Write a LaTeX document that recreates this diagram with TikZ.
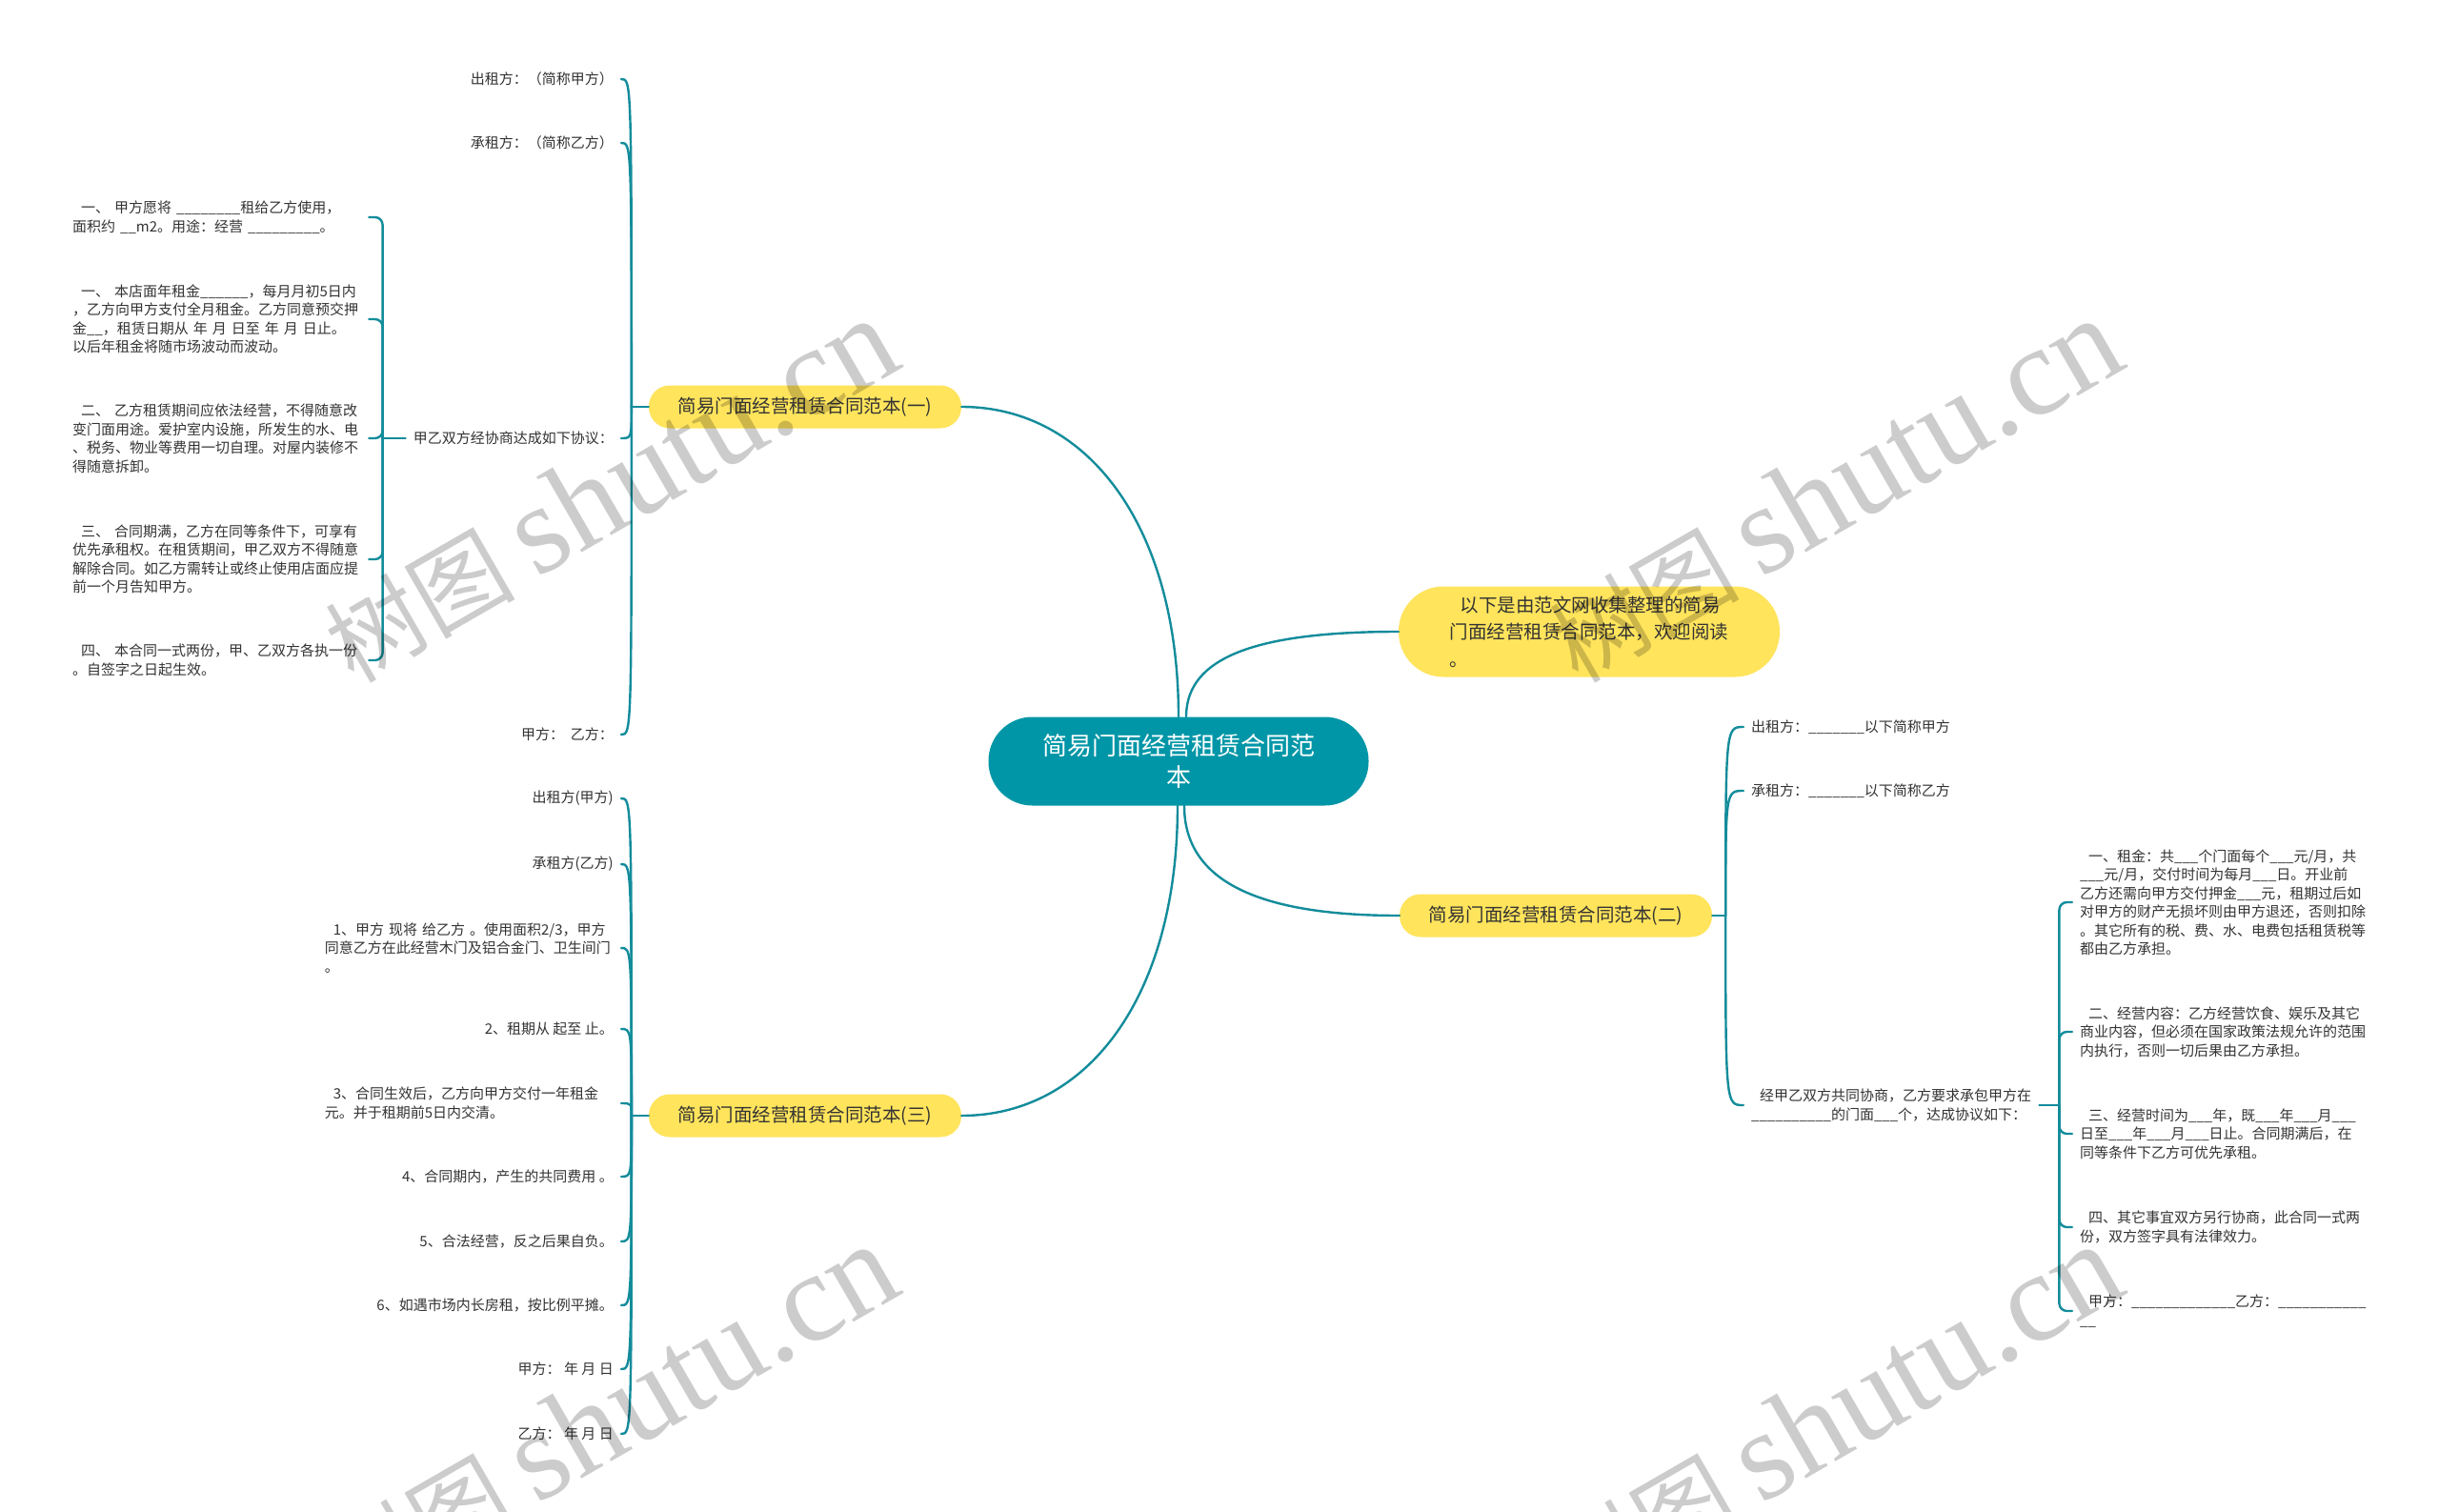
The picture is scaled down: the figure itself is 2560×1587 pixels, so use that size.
\documentclass[tikz,border=0pt]{standalone}
\usepackage{fontspec}
\setmainfont{Noto Sans CJK SC}
\newfontfamily\wmserif{Liberation Serif}
\usepackage{tikz}
\definecolor{hubteal}{HTML}{0096A7}
\definecolor{linkteal}{HTML}{138C9B}
\definecolor{topicyellow}{HTML}{FFE45C}
\definecolor{leafgray}{HTML}{333333}
\tikzset{
  link/.style={draw=linkteal,line width=2.4pt,line cap=round},
  bracelink/.style={link,rounded corners=8pt},
  hubnode/.style={fill=hubteal,text=white,rounded corners=46pt,minimum width=399pt,minimum height=93pt,align=center,font=\fontsize{26}{33}\selectfont},
  topicnode/.style={fill=topicyellow,text=leafgray,rounded corners=22pt,minimum width=328pt,minimum height=45pt,font=\fontsize{19.5}{24}\selectfont},
  leafnode/.style={text=leafgray,inner xsep=8pt,inner ysep=0pt,font=\fontsize{15}{19.5}\selectfont},
  leafl/.style={leafnode,anchor=east},
  leafr/.style={leafnode,anchor=west},
  leafblock/.style={text width=303pt,align=left},
  watermark/.style={rotate=30,text=black,text opacity=0.2,inner sep=0pt}
}
\begin{document}
\begin{tikzpicture}[x=1pt,y=-1pt]
\fill[white] (0,0) rectangle (2560,1587);
\useasboundingbox (0,0) rectangle (2560,1587);

\node[hubnode] (hub) at (1237,799) {简易门面经营租赁合同范\\本};
\node[topicnode,minimum width=400pt,minimum height=95pt,rounded corners=47pt,align=left,font=\fontsize{19.5}{28.5}\selectfont]
  (intro) at (1668,663) {\hspace*{11pt}以下是由范文网收集整理的简易\\门面经营租赁合同范本，欢迎阅读\\。};
\node[topicnode] (b1) at (845,427) {简易门面经营租赁合同范本(一)};
\node[topicnode] (b2) at (1633,961) {简易门面经营租赁合同范本(二)};
\node[topicnode] (b3) at (845,1171) {简易门面经营租赁合同范本(三)};

\node[leafl] (l11) at (652,83) {出租方：（简称甲方）};
\node[leafl] (l12) at (652,150) {承租方：（简称乙方）};
\node[leafl] (l13) at (652,460) {甲乙双方经协商达成如下协议：};
\node[leafl] (l14) at (652,771) {甲方：\ \ 乙方：};

\node[leafr,leafblock] (m1) at (68,228) {\hspace*{9pt}一、 甲方愿将 \_\_\_\_\_\_\_\_租给乙方使用，\\面积约 \_\_m2。用途：经营 \_\_\_\_\_\_\_\_\_。};
\node[leafr,leafblock] (m2) at (68,335) {\hspace*{9pt}一、 本店面年租金\_\_\_\_\_\_，每月月初5日内\\，乙方向甲方支付全月租金。乙方同意预交押\\金\_\_，租赁日期从 年 月 日至 年 月 日止。\\以后年租金将随市场波动而波动。};
\node[leafr,leafblock] (m3) at (68,460) {\hspace*{9pt}二、 乙方租赁期间应依法经营，不得随意改\\变门面用途。爱护室内设施，所发生的水、电\\、税务、物业等费用一切自理。对屋内装修不\\得随意拆卸。};
\node[leafr,leafblock] (m4) at (68,587) {\hspace*{9pt}三、 合同期满，乙方在同等条件下，可享有\\优先承租权。在租赁期间，甲乙双方不得随意\\解除合同。如乙方需转让或终止使用店面应提\\前一个月告知甲方。};
\node[leafr,leafblock] (m5) at (68,693) {\hspace*{9pt}四、 本合同一式两份，甲、乙双方各执一份\\。自签字之日起生效。};

\node[leafr] (r1) at (1830,763) {出租方：\_\_\_\_\_\_\_以下简称甲方};
\node[leafr] (r2) at (1830,830) {承租方：\_\_\_\_\_\_\_以下简称乙方};
\node[leafr,align=left] (r3) at (1830,1160) {\hspace*{9pt}经甲乙双方共同协商，乙方要求承包甲方在\\\_\_\_\_\_\_\_\_\_\_的门面\_\_\_个，达成协议如下：};

\node[leafr,leafblock] (s1) at (2175,947) {\hspace*{9pt}一、租金：共\_\_\_个门面每个\_\_\_元/月，共\\\_\_\_元/月，交付时间为每月\_\_\_日。开业前\\乙方还需向甲方交付押金\_\_\_元，租期过后如\\对甲方的财产无损坏则由甲方退还，否则扣除\\。其它所有的税、费、水、电费包括租赁税等\\都由乙方承担。};
\node[leafr,leafblock] (s2) at (2175,1083) {\hspace*{9pt}二、经营内容：乙方经营饮食、娱乐及其它\\商业内容，但必须在国家政策法规允许的范围\\内执行，否则一切后果由乙方承担。};
\node[leafr,leafblock] (s3) at (2175,1190) {\hspace*{9pt}三、经营时间为\_\_\_年，既\_\_\_年\_\_\_月\_\_\_\\日至\_\_\_年\_\_\_月\_\_\_日止。合同期满后，在\\同等条件下乙方可优先承租。};
\node[leafr,leafblock] (s4) at (2175,1288) {\hspace*{9pt}四、其它事宜双方另行协商，此合同一式两\\份，双方签字具有法律效力。};
\node[leafr,leafblock] (s5) at (2175,1376) {\hspace*{9pt}甲方：\_\_\_\_\_\_\_\_\_\_\_\_\_乙方：\_\_\_\_\_\_\_\_\_\_\_\\\_\_};

\node[leafl] (t1) at (652,838) {出租方(甲方)};
\node[leafl] (t2) at (652,907) {承租方(乙方)};
\node[leafl,leafblock] (t3) at (652,995) {\hspace*{9pt}1、甲方 现将 给乙方 。使用面积2/3，甲方\\同意乙方在此经营木门及铝合金门、卫生间门\\。};
\node[leafl] (t4) at (652,1080) {2、租期从 起至 止。};
\node[leafl,leafblock] (t5) at (652,1158) {\hspace*{9pt}3、合同生效后，乙方向甲方交付一年租金\\元。并于租期前5日内交清。};
\node[leafl] (t6) at (652,1235) {4、合同期内，产生的共同费用 。};
\node[leafl] (t7) at (652,1303) {5、合法经营，反之后果自负。};
\node[leafl] (t8) at (652,1370) {6、如遇市场内长房租，按比例平摊。};
\node[leafl] (t9) at (652,1437) {甲方：\ 年 月 日};
\node[leafl] (t10) at (652,1505) {乙方：\ 年 月 日};

\draw[link] (hub.north) .. controls +(0,-198) and +(134,0) .. (b1.east);
\draw[link] ([xshift=8pt]hub.north) .. controls +(0,-63) and +(-148,0) .. (intro.west);
\draw[link] ([xshift=6pt]hub.south) .. controls +(0,84) and +(-138,0) .. (b2.west);
\draw[link] ([xshift=-1pt]hub.south) .. controls +(0,198) and +(134,0) .. (b3.east);

\draw[link] (b1.west) -- ++(-18,0) coordinate (b1s);
\foreach \c in {l11,l12,l13,l14} \draw[link] (b1s) .. controls (b1s |- \c.east) .. (\c.east);
\draw[link] (l13.west) -- ++(-24,0) coordinate (l13s);
\foreach \c in {m1,m2,m3,m4,m5} \draw[bracelink] (l13s) |- (\c.east);

\draw[link] (b2.east) -- ++(14,0) coordinate (b2s);
\foreach \c in {r1,r2,r3} \draw[link] (b2s) .. controls (b2s |- \c.west) .. (\c.west);
\draw[link] (r3.east) -- ++(21,0) coordinate (r3s);
\foreach \c in {s1,s2,s3,s4,s5} \draw[bracelink] (r3s) |- (\c.west);

\draw[link] (b3.west) -- ++(-18,0) coordinate (b3s);
\foreach \c in {t1,t2,t3,t4,t5,t6,t7,t8,t9,t10} \draw[link] (b3s) .. controls (b3s |- \c.east) .. (\c.east);

\foreach \wx/\wy [count=\i] in {640/515,1925/515,640/1487,1925/1487}
  \node[watermark] (wm\i) at (\wx,\wy) {\fontsize{100}{100}\selectfont 树图 {\wmserif\fontsize{133}{133}\selectfont shutu.cn}};
\end{tikzpicture}
\end{document}
